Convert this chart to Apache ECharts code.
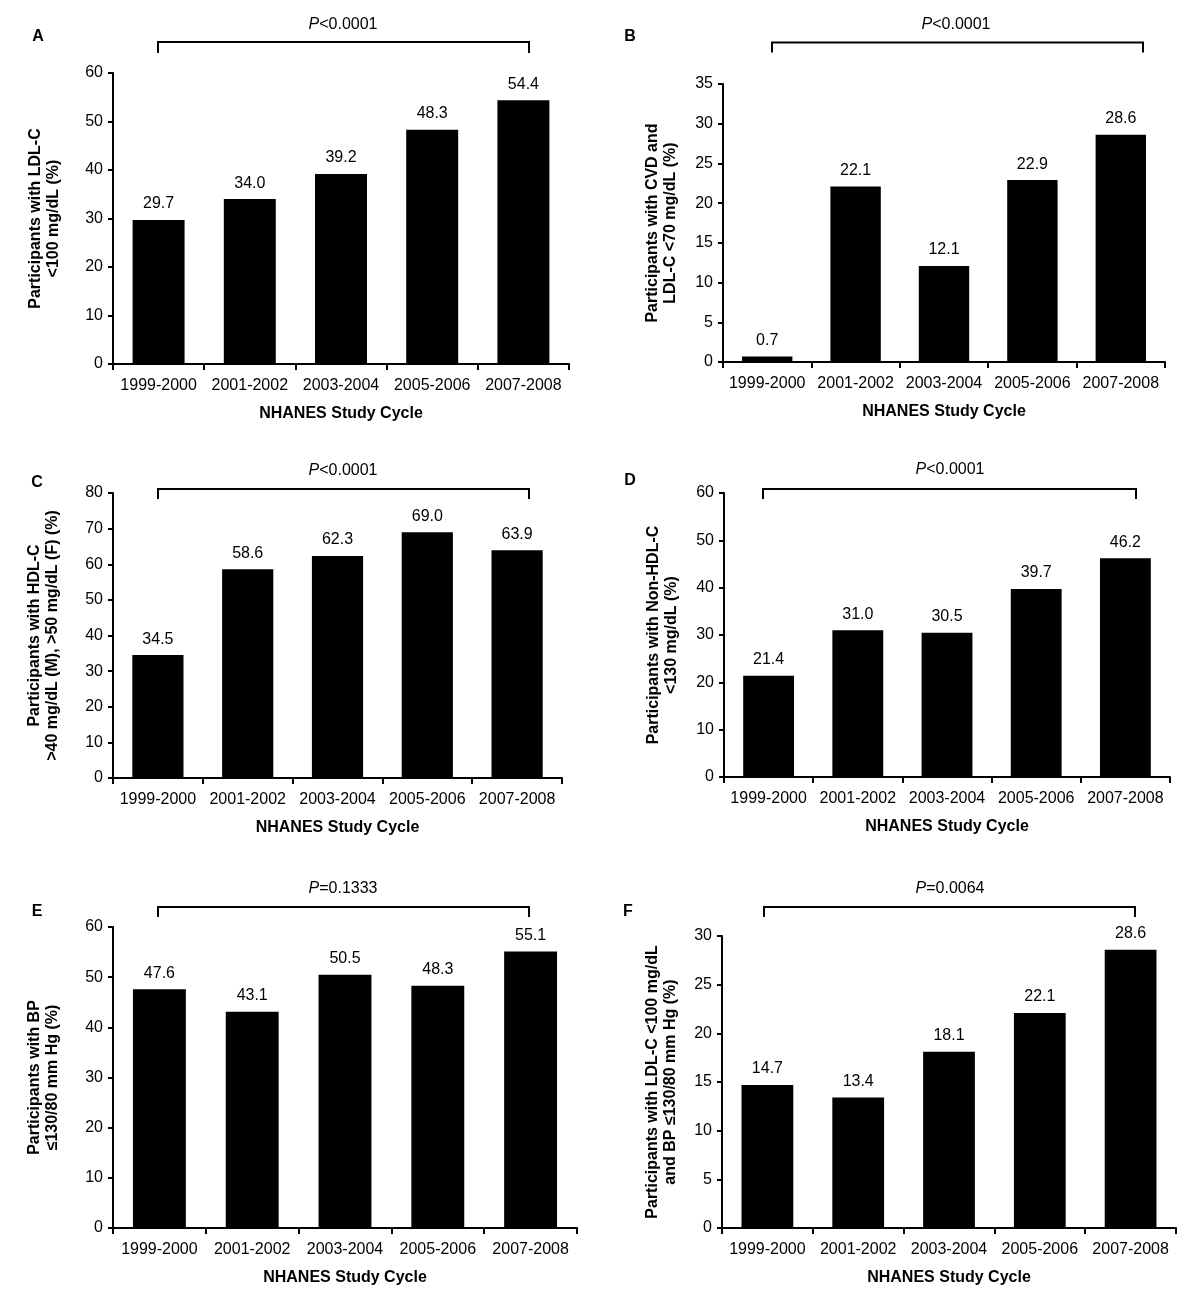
<!DOCTYPE html>
<html><head><meta charset="utf-8">
<script src="https://cdn.jsdelivr.net/npm/echarts@6/dist/echarts.min.js"></script>
<style>html,body{margin:0;padding:0;background:#fff}#c{width:1200px;height:1310px}</style>
</head><body><div id="c"></div>
<script>
// ---- data ----
const categories = ['1999-2000', '2001-2002', '2003-2004', '2005-2006', '2007-2008'];
const valuesA = [29.7, 34.0, 39.2, 48.3, 54.4];
const valuesB = [0.7, 22.1, 12.1, 22.9, 28.6];
const valuesC = [34.5, 58.6, 62.3, 69.0, 63.9];
const valuesD = [21.4, 31.0, 30.5, 39.7, 46.2];
const valuesE = [47.6, 43.1, 50.5, 48.3, 55.1];
const valuesF = [14.7, 13.4, 18.1, 22.1, 28.6];
const panelLetters = ['A', 'B', 'C', 'D', 'E', 'F'];
const pValues = ['<0.0001', '<0.0001', '<0.0001', '<0.0001', '=0.1333', '=0.0064'];
const yTitles = [
  'Participants with LDL-C\n<100 mg/dL (%)',
  'Participants with CVD and\nLDL-C <70 mg/dL (%)',
  'Participants with HDL-C\n>40 mg/dL (M), >50 mg/dL (F) (%)',
  'Participants with Non-HDL-C\n<130 mg/dL (%)',
  'Participants with BP\n\u2264130/80 mm Hg (%)',
  'Participants with LDL-C <100 mg/dL\nand BP \u2264130/80 mm Hg (%)'
];
const yMax = [60, 35, 80, 60, 60, 30];
const yInterval = [10, 5, 10, 10, 10, 5];
const xTitle = 'NHANES Study Cycle';
const allValues = [valuesA, valuesB, valuesC, valuesD, valuesE, valuesF];

// ---- layout (positions / sizes only) ----
const grids = [
  {left: 113, top: 73, width: 456, height: 291},
  {left: 723, top: 84, width: 442, height: 278},
  {left: 113, top: 493, width: 449, height: 285},
  {left: 724, top: 493, width: 446, height: 284},
  {left: 113, top: 927, width: 464, height: 301},
  {left: 722, top: 936, width: 454, height: 292}
];
const yNameGaps = [50, 43, 51, 43, 51, 42];
const brackets = [
  {x1: 158, x2: 529, y: 42, d: 11, tx: 343, ty: 25},
  {x1: 772, x2: 1143, y: 42.5, d: 10, tx: 956, ty: 25},
  {x1: 158, x2: 529, y: 489, d: 10, tx: 343, ty: 471},
  {x1: 763, x2: 1136, y: 489, d: 10, tx: 950, ty: 470},
  {x1: 158, x2: 529, y: 907, d: 10, tx: 343, ty: 889},
  {x1: 764, x2: 1135, y: 907, d: 10, tx: 950, ty: 889}
];
const letterPos = [[38, 37], [630, 37], [37, 483], [630, 481], [37, 912], [628, 912]];

const FONT = '"Liberation Sans", Arial, Helvetica, sans-serif';
const chart = echarts.init(document.getElementById('c'), null, {renderer: 'canvas'});

const option = {
  backgroundColor: '#fff',
  animation: false,
  textStyle: {fontFamily: FONT, color: '#000'},
  grid: grids.map(g => Object.assign({containLabel: false}, g)),
  xAxis: grids.map((g, i) => ({
    type: 'category', gridIndex: i, data: categories,
    axisLine: {lineStyle: {color: '#000', width: 2}},
    axisTick: {show: true, length: 6, lineStyle: {color: '#000', width: 2}},
    axisLabel: {color: '#000', fontSize: 16, margin: 14, interval: 0, fontFamily: FONT},
    name: xTitle, nameLocation: 'middle', nameGap: 42,
    nameTextStyle: {fontSize: 16, fontWeight: 'bold', color: '#000', fontFamily: FONT}
  })),
  yAxis: grids.map((g, i) => ({
    type: 'value', gridIndex: i, min: 0, max: yMax[i], interval: yInterval[i],
    axisLine: {show: true, lineStyle: {color: '#000', width: 2}},
    axisTick: {show: true, length: 5, lineStyle: {color: '#000', width: 2}},
    splitLine: {show: false},
    axisLabel: {color: '#000', fontSize: 16, margin: 10, fontFamily: FONT},
    name: yTitles[i], nameLocation: 'middle', nameGap: yNameGaps[i],
    nameTextStyle: {fontSize: 16, fontWeight: 'bold', color: '#000', lineHeight: 18, fontFamily: FONT, align: 'center'}
  })),
  series: allValues.map((vals, i) => ({
    type: 'bar', xAxisIndex: i, yAxisIndex: i, data: vals,
    barWidth: '57%',
    itemStyle: {color: '#000'},
    label: {show: true, position: 'top', distance: 8, color: '#000', fontSize: 16, fontFamily: FONT,
      formatter: p => p.value.toFixed(1)}
  })),
  graphic: []
};

brackets.forEach((b, i) => {
  option.graphic.push({
    type: 'polyline', silent: true,
    shape: {points: [[b.x1, b.y + b.d], [b.x1, b.y], [b.x2, b.y], [b.x2, b.y + b.d]]},
    style: {stroke: '#000', lineWidth: 2, fill: null}
  });
  option.graphic.push({
    type: 'text', x: b.tx, y: b.ty, silent: true,
    style: {
      text: '{i|P}{n|' + pValues[i] + '}',
      textAlign: 'center', textVerticalAlign: 'middle',
      rich: {
        i: {fontStyle: 'italic', fontSize: 16, fontFamily: FONT, fill: '#000'},
        n: {fontSize: 16, fontFamily: FONT, fill: '#000'}
      }
    }
  });
  option.graphic.push({
    type: 'text', x: letterPos[i][0], y: letterPos[i][1], silent: true,
    style: {text: panelLetters[i], font: 'bold 16px ' + FONT, fill: '#000', textAlign: 'center', textVerticalAlign: 'middle'}
  });
});

chart.setOption(option);
</script></body></html>
